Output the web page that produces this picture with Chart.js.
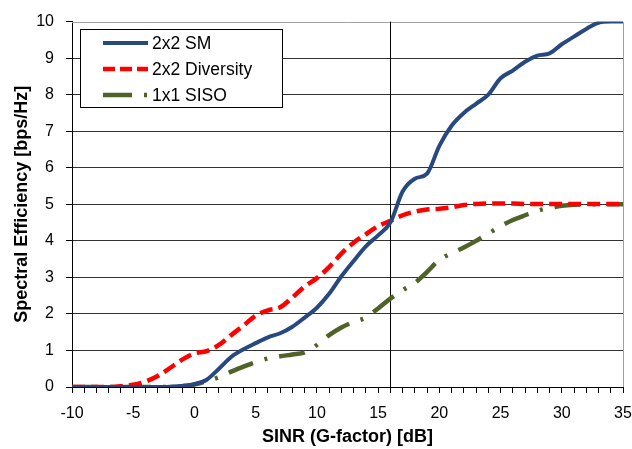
<!DOCTYPE html>
<html>
<head>
<meta charset="utf-8">
<script src="https://cdn.jsdelivr.net/npm/chart.js@4/dist/chart.umd.min.js"></script>
<style>
  html, body { margin: 0; padding: 0; background: #fff; }
  #wrap { width: 632px; height: 449px; position: relative; }
</style>
</head>
<body>
<div id="wrap"><canvas id="c" width="632" height="449"></canvas></div>
<script>
// SINR values (dB)
const sinr = [-10,-9,-8,-7,-6,-5,-4,-3,-2,-1,0,1,2,3,4,5,6,7,8,9,10,11,12,13,14,15,16,17,18,19,20,21,22,23,24,25,26,27,28,29,30,31,32,33,34,35];
// Spectral efficiency series (bps/Hz)
const sm2x2 = [0,0,0,0,0,0,0,0,0.01,0.03,0.08,0.2,0.5,0.82,1.03,1.2,1.36,1.47,1.65,1.9,2.17,2.55,3.03,3.45,3.85,4.15,4.5,5.35,5.7,5.84,6.6,7.15,7.5,7.75,8.0,8.45,8.66,8.9,9.07,9.13,9.38,9.59,9.8,9.97,10,10];
const div2x2 = [0,0,0,0,0.02,0.06,0.15,0.3,0.52,0.75,0.92,0.98,1.15,1.42,1.68,1.95,2.1,2.18,2.45,2.75,2.98,3.28,3.65,3.95,4.18,4.4,4.55,4.7,4.8,4.86,4.88,4.92,4.98,5.01,5.02,5.02,5.02,5.01,5.01,5.01,5.01,5.01,5.01,5.01,5.01,5.01];
const siso1x1 = [0,0,0,0,0,0,0,0,0,0.02,0.07,0.16,0.27,0.42,0.56,0.68,0.78,0.84,0.89,0.95,1.15,1.42,1.63,1.78,1.9,2.15,2.42,2.65,2.85,3.15,3.48,3.66,3.82,4.0,4.2,4.4,4.57,4.7,4.82,4.9,4.96,4.99,5.0,5.0,5.0,5.0];
const seriesNames = ["2x2 SM", "2x2 Diversity", "1x1 SISO"];
const xTickLabels = [-10,-5,0,5,10,15,20,25,30,35];
const yTickLabels = [0,1,2,3,4,5,6,7,8,9,10];
const markerX = 16; // vertical reference line

const toPts = (ys) => ys.map((y, i) => ({x: sinr[i], y}));

const FONT = "'Liberation Sans', Arial, sans-serif";

const legendBox = {
  id: 'legendBox',
  afterDraw(chart) {
    const ctx = chart.ctx;
    const x0 = 80.5, y0 = 29.5, w = 202, h = 78;
    ctx.save();
    ctx.fillStyle = '#fff';
    ctx.fillRect(x0, y0, w, h);
    ctx.strokeStyle = '#000';
    ctx.lineWidth = 1;
    ctx.strokeRect(x0, y0, w, h);
    const rows = [43, 69, 95];
    chart.data.datasets.forEach((ds, i) => {
      const y = rows[i];
      ctx.beginPath();
      ctx.strokeStyle = ds.borderColor;
      ctx.lineWidth = ds.borderWidth;
      ctx.setLineDash(ds.legendDash || []);
      ctx.moveTo(103, y);
      ctx.lineTo(148, y);
      ctx.stroke();
      ctx.setLineDash([]);
      ctx.fillStyle = '#000';
      ctx.font = '17.5px ' + FONT;
      ctx.textBaseline = 'middle';
      ctx.textAlign = 'left';
      ctx.fillText(ds.label, 152, y + 1);
    });
    ctx.restore();
  }
};

const frame = {
  id: 'frame',
  beforeDatasetsDraw(chart) {
    const {ctx, chartArea: a, scales} = chart;
    ctx.save();
    ctx.strokeStyle = '#a0a0a0';
    ctx.lineWidth = 1;
    ctx.beginPath();
    ctx.moveTo(a.left, Math.round(a.top) + 0.5);
    ctx.lineTo(Math.round(a.right) + 0.5, Math.round(a.top) + 0.5);
    ctx.lineTo(Math.round(a.right) + 0.5, a.bottom);
    ctx.stroke();
    const px = Math.round(scales.x.getPixelForValue(markerX)) + 0.5;
    ctx.strokeStyle = '#000';
    ctx.beginPath();
    ctx.moveTo(px, a.top);
    ctx.lineTo(px, a.bottom + 6);
    ctx.stroke();
    ctx.restore();
  }
};

new Chart(document.getElementById('c'), {
  type: 'line',
  data: {
    datasets: [
      { label: seriesNames[0], data: toPts(sm2x2), borderColor: '#27497f', borderWidth: 4, borderDash: [], legendDash: [],
        pointRadius: 0, cubicInterpolationMode: 'monotone', fill: false },
      { label: seriesNames[1], data: toPts(div2x2), borderColor: '#ff0000', borderWidth: 4.5, borderDash: [13, 6], legendDash: [12, 5],
        pointRadius: 0, cubicInterpolationMode: 'monotone', fill: false },
      { label: seriesNames[2], data: toPts(siso1x1), borderColor: '#4f6228', borderWidth: 4.5, borderDash: [26, 12, 3, 12], legendDash: [29, 12, 3, 12],
        pointRadius: 0, cubicInterpolationMode: 'monotone', fill: false }
    ]
  },
  options: {
    responsive: false,
    animation: false,
    devicePixelRatio: 1,
    layout: { padding: { top: 16, right: 0, left: 0, bottom: 0 } },
    plugins: { legend: { display: false }, tooltip: { enabled: false } },
    scales: {
      x: {
        type: 'linear',
        min: sinr[0], max: sinr[sinr.length - 1],
        afterFit(s) { s.height = 62; s.paddingRight = 9; s.paddingLeft = 0; },
        border: { display: true, color: '#000', width: 1 },
        grid: { drawOnChartArea: false, drawTicks: true, tickLength: 6, color: '#000', tickColor: '#000' },
        ticks: {
          stepSize: 1, autoSkip: false, maxRotation: 0, padding: 11,
          color: '#000', font: { family: FONT, size: 16 },
          callback: (v) => xTickLabels.includes(v) ? String(v) : ''
        },
        title: { display: true, text: 'SINR (G-factor) [dB]', color: '#000',
          font: { family: FONT, size: 18, weight: 'bold', lineHeight: 1.2 }, padding: { top: 0, bottom: 1 } }
      },
      y: {
        type: 'linear',
        min: yTickLabels[0], max: yTickLabels[yTickLabels.length - 1],
        afterFit(s) { s.width = 72; },
        border: { display: true, color: '#000', width: 1 },
        grid: {
          drawOnChartArea: true, drawTicks: true, tickLength: 6,
          color: (c) => (c.tick && (c.tick.value === 0 || c.tick.value === 10)) ? 'rgba(0,0,0,0)' : '#333',
          tickColor: '#000', tickBorderDash: [],
          borderDash: [2, 2], lineWidth: 1
        },
        ticks: {
          stepSize: 1, padding: 12, color: '#000', font: { family: FONT, size: 16 },
          callback: (v) => yTickLabels.includes(v) ? String(v) : ''
        },
        title: { display: true, text: 'Spectral Efficiency [bps/Hz]', color: '#000',
          font: { family: FONT, size: 18, weight: 'bold', lineHeight: 1.2 }, padding: { top: 11, bottom: 0 } }
      }
    }
  },
  plugins: [frame, legendBox]
});
</script>
</body>
</html>
